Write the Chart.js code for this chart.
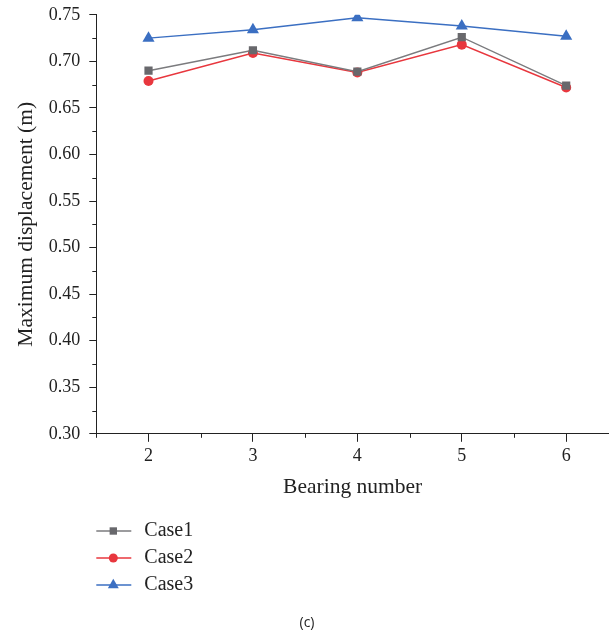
<!DOCTYPE html>
<html>
<head>
<meta charset="utf-8">
<script src="https://cdn.jsdelivr.net/npm/chart.js@4"></script>
<style>
  html, body { margin: 0; padding: 0; background: #fff; }
  #wrap { width: 609px; height: 635px; position: relative; }
</style>
</head>
<body>
<div id="wrap"><canvas id="chart1"></canvas></div>
<script>
const bearings = [2, 3, 4, 5, 6];
const case1 = [0.690, 0.712, 0.689, 0.726, 0.674];
const case2 = [0.679, 0.709, 0.688, 0.718, 0.672];
const case3 = [0.725, 0.734, 0.747, 0.738, 0.727];
const seriesNames = ["Case1", "Case2", "Case3"];

const serif = "'Liberation Serif', 'Times New Roman', serif";

function pts(vals) {
  return bearings.map((b, i) => ({ x: b, y: vals[i] }));
}

// minor ticks halfway between the major ones + a simple stacked legend below the axis
const extras = {
  id: "extras",
  afterDraw(chart) {
    const ctx = chart.ctx;
    const xs = chart.scales.x;
    const ys = chart.scales.y;
    const area = chart.chartArea;
    ctx.save();
    ctx.strokeStyle = "#222";
    ctx.lineWidth = 1;
    ctx.beginPath();
    for (let v = 1.5; v < 6.5; v += 1) {
      const px = Math.round(xs.getPixelForValue(v)) + 0.5;
      ctx.moveTo(px, area.bottom);
      ctx.lineTo(px, area.bottom + 4);
    }
    for (let v = 0.325; v < 0.75; v += 0.05) {
      const py = Math.round(ys.getPixelForValue(v)) + 0.5;
      ctx.moveTo(area.left, py);
      ctx.lineTo(area.left - 4, py);
    }
    ctx.stroke();

    // legend
    const left = area.left;
    chart.data.datasets.forEach((ds, i) => {
      const y = 531 + i * 27;
      ctx.strokeStyle = ds.borderColor;
      ctx.lineWidth = 1.5;
      ctx.beginPath();
      ctx.moveTo(left, y);
      ctx.lineTo(left + 35, y);
      ctx.stroke();
      ctx.fillStyle = ds.pointBackgroundColor;
      Chart.helpers.drawPoint(ctx, {
        pointStyle: ds.pointStyle,
        radius: ds.pointRadius * 0.9,
        rotation: 0,
        borderWidth: 0
      }, left + 17, y);
      ctx.fillStyle = "#222";
      ctx.font = "20px " + serif;
      ctx.textBaseline = "middle";
      ctx.textAlign = "left";
      ctx.fillText(seriesNames[i], left + 48, y);
    });
    ctx.restore();
  }
};

new Chart("chart1", {
  type: "line",
  data: {
    datasets: [
      {
        label: seriesNames[0],
        data: pts(case1),
        borderColor: "#7b7b7e",
        backgroundColor: "#68686c",
        pointBackgroundColor: "#68686c",
        pointBorderWidth: 0,
        pointStyle: "rect",
        pointRadius: 5.8,
        borderWidth: 1.5,
      },
      {
        label: seriesNames[1],
        data: pts(case2),
        borderColor: "#e8373e",
        backgroundColor: "#e8373e",
        pointBackgroundColor: "#e8373e",
        pointBorderWidth: 0,
        pointStyle: "circle",
        pointRadius: 5,
        borderWidth: 1.5,
      },
      {
        label: seriesNames[2],
        data: pts(case3),
        borderColor: "#3b6fc2",
        backgroundColor: "#3b6fc2",
        pointBackgroundColor: "#3b6fc2",
        pointBorderWidth: 0,
        pointStyle: "triangle",
        pointRadius: 7,
        borderWidth: 1.5,
      },
    ],
  },
  options: {
    responsive: true,
    maintainAspectRatio: false,
    animation: false,
    layout: { autoPadding: false, padding: { top: 0, right: 0, left: 5, bottom: 0 } },
    plugins: {
      legend: { display: false },
      tooltip: { enabled: false },
      title: {
        display: true,
        position: "bottom",
        text: "(c)",
        color: "#222",
        font: { family: "'Open Sans', 'Noto Sans', sans-serif", size: 14, weight: "normal" },
        padding: { top: 114, bottom: 4 },
      },
    },
    scales: {
      x: {
        type: "linear",
        min: 1.5,
        max: 6.41,
        afterBuildTicks: (axis) => {
          axis.ticks = bearings.map((v) => ({ value: v }));
        },
        ticks: {
          color: "#222",
          font: { family: serif, size: 18 },
          padding: 4,
          maxRotation: 0,
        },
        grid: {
          drawOnChartArea: false,
          tickLength: 8,
          tickColor: "#222",
        },
        border: { color: "#222", width: 1 },
        title: {
          display: true,
          text: "Bearing number",
          color: "#222",
          font: { family: serif, size: 21.5 },
          padding: { top: 3, bottom: 0 },
        },
      },
      y: {
        min: 0.3,
        max: 0.75,
        ticks: {
          stepSize: 0.05,
          color: "#222",
          font: { family: serif, size: 18, lineHeight: 0.65 },
          padding: 9,
          callback: (v) => v.toFixed(2),
        },
        grid: {
          drawOnChartArea: false,
          tickLength: 7,
          tickColor: "#222",
        },
        border: { color: "#222", width: 1 },
        title: {
          display: true,
          text: "Maximum displacement (m)",
          color: "#222",
          font: { family: serif, size: 21.5 },
          padding: { top: 8, bottom: 1 },
        },
      },
    },
  },
  plugins: [extras],
});
</script>
</body>
</html>
